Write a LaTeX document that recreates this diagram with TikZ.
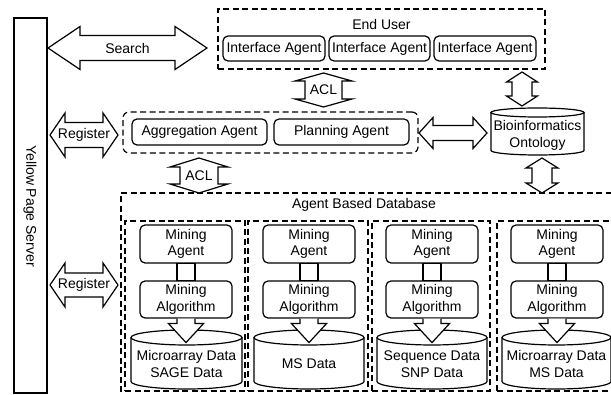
\documentclass[tikz,border=0pt]{standalone}
\usepackage{fontspec}
\setmainfont{Liberation Sans}
% horizontal double arrow: xL, xR, yc, shaft half, head half, head length
\newcommand\hdarrow[7]{%
 \draw[dblarr] (#1,#3) -- ({#1+#6},{#3-#5}) -- ({#1+#6},{#3-#4}) -- ({#2-#6},{#3-#4}) -- ({#2-#6},{#3-#5}) -- (#2,#3) -- ({#2-#6},{#3+#5}) -- ({#2-#6},{#3+#4}) -- ({#1+#6},{#3+#4}) -- ({#1+#6},{#3+#5}) -- cycle;
 \node[lbl] at ({(#1+#2)/2},#3) {#7};}
% vertical double arrow: yT, yB, xc, shaft half, head half, head length
\newcommand\vdarrow[7]{%
 \draw[dblarr] (#3,#1) -- ({#3+#5},{#1+#6}) -- ({#3+#4},{#1+#6}) -- ({#3+#4},{#2-#6}) -- ({#3+#5},{#2-#6}) -- (#3,#2) -- ({#3-#5},{#2-#6}) -- ({#3-#4},{#2-#6}) -- ({#3-#4},{#1+#6}) -- ({#3-#5},{#1+#6}) -- cycle;
 \node[lbl] at (#3,{(#1+#2)/2}) {#7};}
% cylinder: name, cx, top, bottom, half width, ry, text y, text
\newcommand\dbcyl[8]{%
 \draw[fill=white] ({#2-#5},{#3+#6}) -- ({#2-#5},{#4-#6}) .. controls ({#2-#5},{#4-#6+0.5523*#6}) and ({#2-0.5523*#5},{#4}) .. (#2,#4) .. controls ({#2+0.5523*#5},{#4}) and ({#2+#5},{#4-#6+0.5523*#6}) .. ({#2+#5},{#4-#6}) -- ({#2+#5},{#3+#6});
 \draw ({#2},{#3+#6}) ellipse [x radius=#5pt, y radius=#6pt];
 \node[lbl] (#1) at (#2,#7) {#8};}
\begin{document}
\begin{tikzpicture}[x=1pt,y=-1pt, line width=1.2pt, font=\fontsize{14}{16.5}\selectfont,
 abox/.style={draw, rounded corners=5pt, align=center, inner sep=0pt},
 grp/.style={draw, dash pattern=on 6pt off 3.5pt, inner sep=0pt},
 dblarr/.style={draw, fill=white, line join=miter},
 lbl/.style={inner sep=0pt, align=center}]
\useasboundingbox (0,0) rectangle (611,395);
\clip (0,0) rectangle (611,395);

% Yellow page server
\node[draw, minimum width=33pt, minimum height=375pt, inner sep=0pt] (yps) at (30.5,205.5) {};
\node[lbl, rotate=-90] (ypst) at (30,206) {Yellow Page Server};

% End user
\node[grp, minimum width=327pt, minimum height=60pt] (eu) at (381.5,39) {};
\node[lbl] (eut) at (381.5,25) {End User};
\node[abox, minimum width=102pt, minimum height=25pt] (ia1) at (274,48.5) {Interface Agent};
\node[abox, minimum width=101pt, minimum height=25pt] (ia2) at (379.5,48.5) {Interface Agent};
\node[abox, minimum width=102pt, minimum height=25pt] (ia3) at (485,48.5) {Interface Agent};

% Aggregation / planning
\node[grp, rounded corners=6pt, minimum width=295pt, minimum height=41pt] (ap) at (270.5,132.5) {};
\node[abox, minimum width=135pt, minimum height=26pt] (agg) at (199.5,132) {Aggregation Agent};
\node[abox, minimum width=135pt, minimum height=26pt] (plan) at (341.5,132) {Planning Agent};

% Bioinformatics ontology
\dbcyl{bio}{537.5}{108}{155}{46.5}{4.5}{135.5}{Bioinformatics\\Ontology}

% Agent based database
\node[grp, minimum width=499pt, minimum height=205pt] (abd) at (370.5,295.5) {};
\node[lbl] (abdt) at (364,205) {Agent Based Database};
\node[grp, minimum width=120pt, minimum height=170pt] (c1) at (185,306) {};
\node[grp, minimum width=120pt, minimum height=170pt] (c2) at (308,306) {};
\node[grp, minimum width=118pt, minimum height=170pt] (c3) at (431,306) {};
\node[grp, minimum width=118pt, minimum height=170pt] (c4) at (556,306) {};

\dbcyl{db1}{186.5}{330}{389}{55.5}{7.5}{364}{Microarray Data\\SAGE Data}
\dbcyl{db2}{309}{330}{389}{55}{7.5}{364}{MS Data}
\dbcyl{db3}{432}{330}{389}{55}{7.5}{364}{Sequence Data\\SNP Data}
\dbcyl{db4}{556.5}{330}{389}{54.5}{7.5}{364}{Microarray Data\\MS Data}

\foreach \cx/\n in {186/1, 309/2, 432/3, 557/4}{
  \node[abox, minimum width=92pt, minimum height=38pt] (ma\n) at (\cx,244) {Mining\\Agent};
  \node[abox, minimum width=92pt, minimum height=37pt] (mg\n) at (\cx,299.5) {Mining\\Algorithm};
  \draw ([xshift=-9pt]ma\n.south) rectangle ([xshift=9pt]mg\n.north);
  \draw[dblarr] ([xshift=-9pt]mg\n.south) -- ++(0,5) -- ++(-8.5,0) -- ++(17.5,19) -- ++(17.5,-19) -- ++(-8.5,0) -- ++(0,-5);
}

% arrows
\hdarrow{48}{207}{48}{12.5}{21.5}{32}{Search}
\hdarrow{50}{118}{135}{12.5}{22}{15}{Register}
\hdarrow{50}{118}{285}{12}{22}{15}{Register}
\hdarrow{419}{487}{133}{7.5}{15.5}{14}{}
\vdarrow{73}{107}{323.5}{18.5}{28.5}{8}{ACL}
\vdarrow{158}{193}{199}{19}{29}{9}{ACL}
\vdarrow{72}{106}{522}{10}{15.5}{10}{}
\vdarrow{158}{193}{542}{10}{16}{10}{}
\end{tikzpicture}
\end{document}
